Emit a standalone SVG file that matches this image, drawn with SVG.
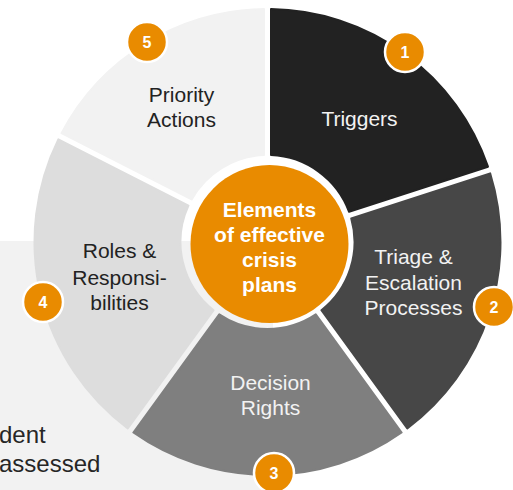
<svg xmlns="http://www.w3.org/2000/svg" width="513" height="490" viewBox="0 0 513 490">
<style>
.seg{stroke-width:2;stroke-linejoin:round}
.lbl{font-family:"Liberation Sans",Arial,sans-serif;font-size:21px;text-anchor:middle}
.ctr{font-family:"Liberation Sans",Arial,sans-serif;font-size:21px;font-weight:bold;fill:#ffffff;text-anchor:middle}
.badge circle{fill:#E98B00;stroke:#ffffff;stroke-width:2.5}
.badge text{font-family:"Liberation Sans",Arial,sans-serif;font-size:16px;font-weight:bold;fill:#ffffff;text-anchor:middle}
.bg{font-family:"Liberation Sans",Arial,sans-serif;font-size:24px;fill:#262626}
</style>
<rect x="0" y="0" width="513" height="490" fill="#ffffff"/>
<rect x="0" y="241" width="273" height="249" fill="#f2f2f2"/>
<text class="bg" x="-1" y="443">dent</text>
<text class="bg" x="-1" y="472">assessed</text>
<g id="seg-triggers">
<path class="seg" fill="#222222" stroke="#222222" d="M271,9.03 A233,233 0 0 1 487.99,166.68 L349.09,211.81 A87,87 0 0 0 271,155.07 Z"/>
<text class="lbl" fill="#f2f2f2" x="359.5" y="126">Triggers</text>
</g>
<g id="seg-triage">
<path class="seg" fill="#474747" stroke="#474747" d="M490.15,173.33 A233,233 0 0 1 407.27,428.42 L321.43,310.27 A87,87 0 0 0 351.25,218.46 Z"/>
<text class="lbl" fill="#f2f2f2" x="413.5" y="264">Triage &amp;</text>
<text class="lbl" fill="#f2f2f2" x="413.5" y="290">Escalation</text>
<text class="lbl" fill="#f2f2f2" x="413.5" y="315">Processes</text>
</g>
<g id="seg-decision">
<path class="seg" fill="#7f7f7f" stroke="#7f7f7f" d="M401.61,432.54 A233,233 0 0 1 133.39,432.54 L219.24,314.39 A87,87 0 0 0 315.76,314.39 Z"/>
<text class="lbl" fill="#f2f2f2" x="270.5" y="390">Decision</text>
<text class="lbl" fill="#f2f2f2" x="270.5" y="415">Rights</text>
</g>
<g id="seg-roles">
<path class="seg" fill="#dddddd" stroke="#dddddd" d="M127.73,428.42 A233,233 0 0 1 58.33,139.35 L188.45,205.65 A87,87 0 0 0 213.57,310.27 Z"/>
<text class="lbl" fill="#222222" x="119.5" y="258">Roles &amp;</text>
<text class="lbl" fill="#222222" x="119.5" y="285">Responsi-</text>
<text class="lbl" fill="#222222" x="119.5" y="310">bilities</text>
</g>
<g id="seg-priority">
<path class="seg" fill="#f2f2f2" stroke="#f2f2f2" d="M61.51,133.11 A233,233 0 0 1 264,9.03 L264,155.07 A87,87 0 0 0 191.63,199.42 Z"/>
<text class="lbl" fill="#222222" x="181.5" y="102">Priority</text>
<text class="lbl" fill="#222222" x="181.5" y="127">Actions</text>
</g>
<g id="center">
<circle cx="269.5" cy="244" r="79" fill="#E98B00"/>
<text class="ctr" x="269.5" y="217">Elements</text>
<text class="ctr" x="269.5" y="242">of effective</text>
<text class="ctr" x="269.5" y="267">crisis</text>
<text class="ctr" x="269.5" y="292">plans</text>
</g>
<g id="badge-1" class="badge"><circle cx="405" cy="52" r="20"/><text x="405" y="57.5">1</text></g>
<g id="badge-2" class="badge"><circle cx="494" cy="307" r="20"/><text x="494" y="312.5">2</text></g>
<g id="badge-3" class="badge"><circle cx="274" cy="473" r="20"/><text x="274" y="478.5">3</text></g>
<g id="badge-4" class="badge"><circle cx="43" cy="302" r="20"/><text x="43" y="307.5">4</text></g>
<g id="badge-5" class="badge"><circle cx="147" cy="42" r="20"/><text x="147" y="47.5">5</text></g>
<g id="connectors"></g>
</svg>
